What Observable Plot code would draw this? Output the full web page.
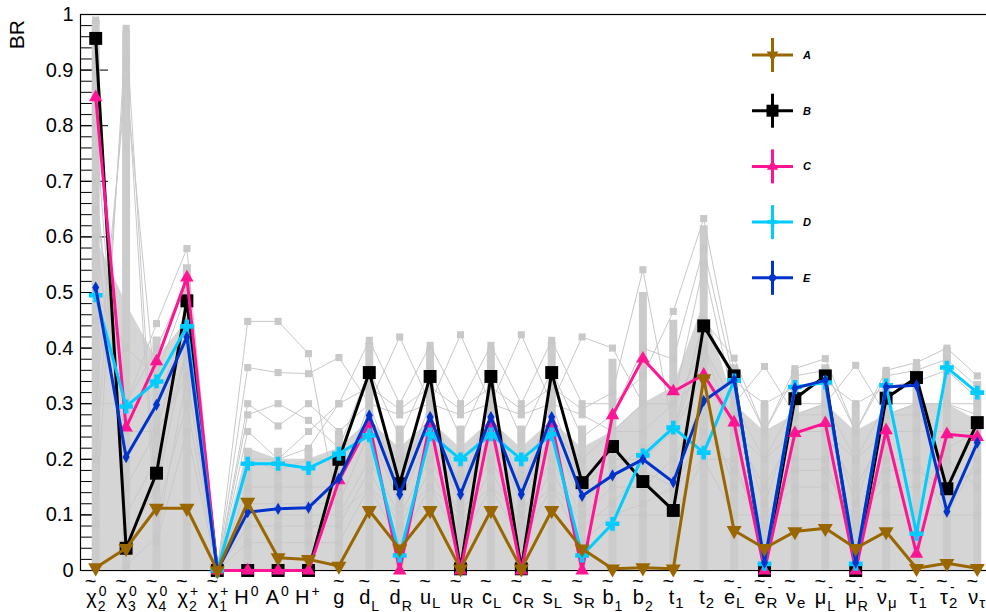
<!DOCTYPE html>
<html>
<head>
<meta charset="utf-8">
<script src="https://cdn.jsdelivr.net/npm/d3@7"></script>
<script src="https://cdn.jsdelivr.net/npm/@observablehq/plot@0.6"></script>
<style>
html, body { margin: 0; padding: 0; background: #ffffff; }
#chart { position: relative; width: 986px; height: 612px; overflow: hidden; font-family: "Liberation Sans", Arial, Helvetica, sans-serif; }
#legend { position: absolute; left: 745px; top: 30px; }
</style>
</head>
<body>
<div id="chart"></div>
<script>
// ---------- categories and tick labels ----------
const categories = ["chi2_0","chi3_0","chi4_0","chi2_p","chi1_p","H0","A0","Hp","g","dL","dR","uL","uR","cL","cR","sL","sR","b1","b2","t1","t2","eL","eR","nue","muL","muR","numu","tau1","tau2","nutau"];
const labelMain  = ["χ","χ","χ","χ","χ","H","A","H","g","d","d","u","u","c","c","s","s","b","b","t","t","e","e","ν","μ","μ","ν","τ","τ","ν"];
const labelSub   = ["2","3","4","2","1","","","","","L","R","L","R","L","R","L","R","1","2","1","2","L","R","e","L","R","μ","1","2","τ"];
const labelSup   = ["0","0","0","+","+","0","0","+","","","","","","","","","","","","","","-","-","","-","-","","-","-",""];
const labelTilde = [true,true,true,true,true,false,false,false,true,true,true,true,true,true,true,true,true,true,true,true,true,true,true,true,true,true,true,true,true,true];

const yMajorTicks = [0,0.1,0.2,0.3,0.4,0.5,0.6,0.7,0.8,0.9,1];
const yMinorTicks = d3.range(0, 1.0001, 0.02);
const yAxisTitle = "BR";

// ---------- highlighted series (BR values) ----------
const seriesNames = ["A","B","C","D","E"];
const seriesA = [0.005,0.04,0.112,0.112,0.0,0.123,0.023,0.02,0.008,0.108,0.039,0.108,0.003,0.108,0.003,0.108,0.039,0.003,0.005,0.003,0.345,0.072,0.04,0.07,0.076,0.04,0.07,0.004,0.013,0.004];
const seriesB = [0.957,0.04,0.175,0.485,0.0,0.0,0.0,0.0,0.2,0.356,0.156,0.349,0.003,0.349,0.003,0.356,0.158,0.223,0.16,0.108,0.44,0.35,0.0,0.309,0.35,0.0,0.31,0.347,0.147,0.266];
const seriesC = [0.851,0.257,0.376,0.527,0.0,0.0,0.0,0.0,0.162,0.265,0.0,0.265,0.0,0.265,0.0,0.265,0.0,0.279,0.381,0.322,0.352,0.266,0.0,0.247,0.265,0.0,0.252,0.03,0.245,0.24];
const seriesD = [0.495,0.295,0.34,0.439,0.0,0.192,0.192,0.184,0.21,0.243,0.027,0.245,0.2,0.245,0.2,0.245,0.027,0.084,0.207,0.257,0.212,0.342,0.012,0.33,0.338,0.012,0.333,0.066,0.365,0.32];
const seriesE = [0.509,0.204,0.298,0.42,0.0,0.105,0.111,0.113,0.165,0.279,0.137,0.276,0.137,0.276,0.137,0.276,0.134,0.171,0.2,0.159,0.305,0.343,0.014,0.328,0.342,0.014,0.33,0.333,0.106,0.23];

// ---------- background scan points (grey) ----------
const greyBand = [0.60,0.48,0.38,0.45,0.0,0.22,0.20,0.20,0.22,0.27,0.22,0.27,0.22,0.27,0.22,0.27,0.22,0.25,0.30,0.33,0.48,0.30,0.25,0.28,0.30,0.25,0.28,0.30,0.30,0.27];
const greyColumn = [0.99,0.97,0.42,0.55,0.0,0.22,0.22,0.22,0.25,0.41,0.26,0.40,0.26,0.40,0.26,0.41,0.26,0.38,0.50,0.45,0.62,0.37,0.30,0.36,0.37,0.30,0.36,0.37,0.40,0.34];
const greyLine1 = [0.99,0.01,0.06,0.35,0.0,0.05,0.05,0.05,0.05,0.15,0.05,0.15,0.05,0.15,0.05,0.15,0.05,0.10,0.10,0.10,0.20,0.20,0.05,0.20,0.20,0.05,0.20,0.20,0.10,0.20];
const greyLine2 = [0.08,0.975,0.10,0.30,0.0,0.10,0.10,0.10,0.10,0.20,0.10,0.20,0.10,0.20,0.10,0.20,0.10,0.15,0.15,0.20,0.30,0.15,0.10,0.15,0.15,0.10,0.15,0.15,0.20,0.15];
const greyLine3 = [0.80,0.10,0.20,0.40,0.0,0.15,0.15,0.15,0.15,0.30,0.15,0.30,0.15,0.30,0.15,0.30,0.15,0.20,0.20,0.25,0.40,0.25,0.15,0.25,0.25,0.15,0.25,0.25,0.25,0.25];
const greyLine4 = [0.30,0.88,0.30,0.45,0.0,0.20,0.18,0.20,0.20,0.25,0.20,0.25,0.20,0.25,0.20,0.25,0.20,0.25,0.30,0.30,0.55,0.30,0.20,0.30,0.30,0.20,0.30,0.30,0.30,0.30];
const greyLine5 = [0.30,0.30,0.444,0.579,0.0,0.448,0.448,0.39,0.10,0.15,0.10,0.15,0.10,0.15,0.10,0.15,0.10,0.10,0.12,0.15,0.20,0.10,0.10,0.10,0.10,0.10,0.10,0.10,0.10,0.10];
const greyLine6 = [0.50,0.40,0.35,0.50,0.0,0.365,0.356,0.354,0.383,0.30,0.28,0.30,0.28,0.30,0.28,0.30,0.28,0.25,0.25,0.30,0.35,0.25,0.20,0.25,0.25,0.20,0.25,0.25,0.25,0.25];
const greyLine7 = [0.60,0.20,0.30,0.40,0.0,0.30,0.26,0.30,0.25,0.30,0.42,0.30,0.424,0.30,0.424,0.30,0.42,0.40,0.30,0.30,0.40,0.30,0.367,0.28,0.30,0.369,0.28,0.30,0.30,0.28];
const greyLine8 = [0.45,0.25,0.25,0.35,0.0,0.25,0.20,0.22,0.30,0.33,0.29,0.33,0.29,0.33,0.29,0.33,0.29,0.32,0.541,0.25,0.45,0.382,0.25,0.363,0.381,0.25,0.36,0.374,0.40,0.35];
const greyLine9 = [0.70,0.15,0.25,0.45,0.0,0.20,0.20,0.25,0.30,0.414,0.30,0.405,0.30,0.405,0.30,0.414,0.30,0.30,0.35,0.466,0.633,0.36,0.25,0.35,0.36,0.25,0.35,0.36,0.38,0.33];
const greyLine10 = [0.90,0.05,0.15,0.40,0.0,0.12,0.12,0.12,0.12,0.25,0.12,0.25,0.12,0.25,0.12,0.25,0.12,0.18,0.22,0.25,0.35,0.28,0.12,0.28,0.28,0.12,0.28,0.28,0.22,0.25];
const greyLine11 = [0.20,0.92,0.05,0.25,0.0,0.08,0.08,0.08,0.08,0.18,0.08,0.18,0.08,0.18,0.08,0.18,0.08,0.12,0.18,0.15,0.25,0.18,0.08,0.18,0.18,0.08,0.18,0.18,0.15,0.18];
const greyLine12 = [0.65,0.30,0.40,0.52,0.0,0.28,0.30,0.27,0.22,0.36,0.24,0.36,0.24,0.36,0.24,0.36,0.24,0.28,0.40,0.38,0.58,0.34,0.30,0.33,0.34,0.30,0.33,0.34,0.36,0.31];

// ---------- styles ----------
const FONT = '"Liberation Sans", Arial, Helvetica, sans-serif';
const GREY = "#c8c8c8";
const seriesStyle = {
  A: {color: "#996600", symbol: "triangle", rotate: 180, r: 5.6},
  B: {color: "#000000", symbol: "square", rotate: 0, r: 7.3},
  C: {color: "#ff1493", symbol: "triangle", rotate: 0, r: 5.0},
  D: {color: "#00ccff", symbol: "cross", rotate: 0, r: 5.8},
  E: {color: "#0033cc", symbol: "diamond", rotate: 0, r: 3.7}
};
const drawOrder = ["B","C","D","E","A"];

// ---------- tables ----------
const toRows = (name, arr) => arr.map((v, i) => ({series: name, cat: categories[i], v}));
const seriesValues = {A: seriesA, B: seriesB, C: seriesC, D: seriesD, E: seriesE};
const greyLines = [greyLine1, greyLine2, greyLine3, greyLine4, greyLine5, greyLine6, greyLine7, greyLine8, greyLine9, greyLine10, greyLine11, greyLine12];
const greyRows = greyLines.flatMap((arr, k) => toRows("g" + k, arr));
const bandRows = toRows("band", greyBand);
const colRows = toRows("col", greyColumn);
const labelRows = categories.map((c, i) => ({cat: c, main: labelMain[i], sub: labelSub[i], sup: labelSup[i], tilde: labelTilde[i]}));
const hasIdx = d => d.sub !== "" || d.sup !== "";
const lowSub = new Set(["χ", "μ", "d", "b"]);

const colouredMarks = drawOrder.flatMap(name => {
  const s = seriesStyle[name];
  const rows = toRows(name, seriesValues[name]);
  return [
    Plot.line(rows, {x: "cat", y: "v", stroke: s.color, strokeWidth: 3}),
    Plot.dot(rows, {x: "cat", y: "v", symbol: s.symbol, rotate: s.rotate, r: s.r, fill: s.color, stroke: "none"})
  ];
});

const chart = Plot.plot({
  width: 986,
  height: 612,
  marginLeft: 80,
  marginRight: -6,
  marginTop: 14,
  marginBottom: 42,
  style: {fontFamily: FONT, background: "#ffffff", color: "#000000", overflow: "visible"},
  x: {type: "point", domain: categories, padding: 0.5, round: false, axis: null},
  y: {domain: [0, 1]},
  marks: [
    Plot.frame({stroke: "#000000", strokeWidth: 1.2}),
    Plot.axisY(yMinorTicks, {tickSize: -12, tickFormat: () => "", label: null}),
    Plot.axisY(yMajorTicks, {tickSize: -28, tickPadding: 35, fontSize: 20, label: null,
      tickFormat: d => String(+d.toFixed(1))}),
    Plot.ruleX(categories, {x: d => d, y1: 0, y2: 0.03, dx: -15.2, stroke: "#000000"}),
    // background scan
    Plot.areaY(bandRows, {x: "cat", y: "v", fill: "#d5d5d5"}),
    Plot.ruleX(colRows, {x: "cat", y1: 0, y2: "v", stroke: "#cbcbcb", strokeWidth: 8}),
    Plot.line(greyRows, {x: "cat", y: "v", z: "series", stroke: GREY, strokeWidth: 1}),
    Plot.dot(greyRows, {x: "cat", y: "v", symbol: "square", r: 4, fill: GREY, stroke: "none"}),
    // highlighted
    ...colouredMarks,
    // x tick labels
    Plot.text(labelRows.filter(hasIdx), {x: "cat", text: "main", frameAnchor: "bottom", lineAnchor: "bottom", dy: 33, dx: 1, textAnchor: "end", fontSize: 20}),
    Plot.text(labelRows.filter(d => !hasIdx(d)), {x: "cat", text: "main", frameAnchor: "bottom", lineAnchor: "bottom", dy: 33, textAnchor: "middle", fontSize: 20}),
    Plot.text(labelRows.filter(d => d.sub !== "" && !lowSub.has(d.main)), {x: "cat", text: "sub", frameAnchor: "bottom", lineAnchor: "bottom", dy: 37, dx: 2, textAnchor: "start", fontSize: 15}),
    Plot.text(labelRows.filter(d => d.sub !== "" && lowSub.has(d.main)), {x: "cat", text: "sub", frameAnchor: "bottom", lineAnchor: "bottom", dy: 40, dx: 2, textAnchor: "start", fontSize: 14}),
    Plot.text(labelRows.filter(d => d.sup !== "" && d.sup !== "-"), {x: "cat", text: "sup", frameAnchor: "bottom", lineAnchor: "bottom", dy: 25, dx: 3, textAnchor: "start", fontSize: 14}),
    Plot.text(labelRows.filter(d => d.sup === "-"), {x: "cat", text: "sup", frameAnchor: "bottom", lineAnchor: "bottom", dy: 21, dx: 3, textAnchor: "start", fontSize: 14}),
    Plot.text(labelRows.filter(d => d.tilde && hasIdx(d)), {x: "cat", text: () => "~", frameAnchor: "bottom", lineAnchor: "bottom", dy: 17, dx: -5, textAnchor: "middle", fontSize: 20}),
    Plot.text(labelRows.filter(d => d.tilde && !hasIdx(d)), {x: "cat", text: () => "~", frameAnchor: "bottom", lineAnchor: "bottom", dy: 17, textAnchor: "middle", fontSize: 20})
  ]
});
document.getElementById("chart").appendChild(chart);

// ---------- y-axis title, rotated, top-aligned as in ROOT ----------
d3.select(chart).append("text")
  .attr("transform", "translate(24,20) rotate(-90)")
  .attr("text-anchor", "end")
  .attr("font-family", FONT).attr("font-size", 21)
  .attr("fill", "#000000")
  .text(yAxisTitle);

// ---------- legend (overlaid in the upper right of the frame) ----------
const legendSymbol = {A: d3.symbolTriangle, B: d3.symbolSquare, C: d3.symbolTriangle, D: d3.symbolCross, E: d3.symbolCircle};
const legendSize = {A: 60, B: 144, C: 55, D: 60, E: 40};
const leg = d3.select("#chart").append("svg")
  .attr("id", "legend").attr("width", 90).attr("height", 280);
seriesNames.forEach((name, i) => {
  const cy = 25 + i * 55.7;
  const c = seriesStyle[name].color;
  const g = leg.append("g");
  g.append("line").attr("x1", 7).attr("x2", 48).attr("y1", cy).attr("y2", cy).attr("stroke", c).attr("stroke-width", 3);
  g.append("line").attr("x1", 27.5).attr("x2", 27.5).attr("y1", cy - 17).attr("y2", cy + 17).attr("stroke", c).attr("stroke-width", 3);
  g.append("path").attr("d", d3.symbol(legendSymbol[name], legendSize[name])())
    .attr("transform", `translate(27.5,${cy}) rotate(${name === "A" ? 180 : 0})`).attr("fill", c);
  g.append("text").attr("x", 58).attr("y", cy).attr("dy", "0.35em")
    .attr("font-family", FONT).attr("font-size", 11).attr("font-weight", "bold").attr("font-style", "italic")
    .text(name);
});
</script>
</body>
</html>
